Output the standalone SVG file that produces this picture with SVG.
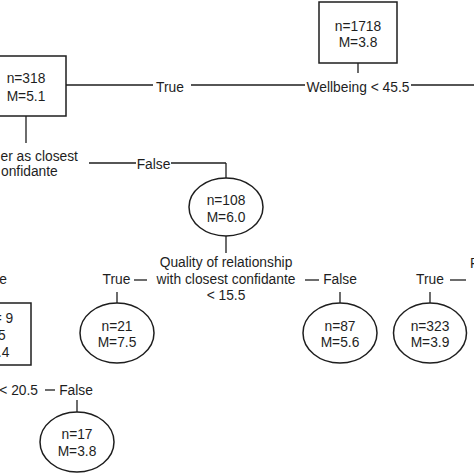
<svg xmlns="http://www.w3.org/2000/svg" width="474" height="474" viewBox="0 0 474 474">
<style>
text{font-family:"Liberation Sans",Arial,sans-serif;font-size:13.8px;fill:#1e1e1e}
.m{text-anchor:middle}
.e{text-anchor:end}
.n{fill:#fff;stroke:#1e1e1e;stroke-width:1.5}
#connectors line{stroke:#1e1e1e;stroke-width:1.3}
</style>
<rect width="474" height="474" fill="#fff"/>
<g id="connectors">
<line x1="66" y1="85" x2="153" y2="85"/>
<line x1="191" y1="85" x2="305" y2="85"/>
<line x1="411" y1="85" x2="474" y2="85"/>
<line x1="358" y1="63" x2="358" y2="73"/>
<line x1="26" y1="116" x2="26" y2="143"/>
<line x1="89" y1="163" x2="136" y2="163"/>
<line x1="171" y1="163" x2="226" y2="163"/>
<line x1="226" y1="163" x2="226" y2="178"/>
<line x1="226" y1="236" x2="226" y2="253"/>
<line x1="134" y1="280" x2="147" y2="280"/>
<line x1="305" y1="280" x2="319" y2="280"/>
<line x1="450" y1="280" x2="466" y2="280"/>
<line x1="117" y1="292" x2="117" y2="303"/>
<line x1="340" y1="292" x2="340" y2="303"/>
<line x1="430" y1="292" x2="430" y2="303"/>
<line x1="45" y1="390" x2="55" y2="390"/>
<line x1="77" y1="400" x2="77" y2="412"/>
</g>
<g id="labels">
<text class="m" x="170" y="92">True</text>
<text class="m" x="358" y="92">Wellbeing &lt; 45.5</text>
<text x="0.5" y="161">er as closest</text>
<text x="1" y="176">onfidante</text>
<text class="m" x="153.5" y="169">False</text>
<text class="m" x="226" y="267">Quality of relationship</text>
<text class="m" x="226" y="283.5">with closest confidante</text>
<text class="m" x="226" y="300">&lt; 15.5</text>
<text class="m" x="116.5" y="284">True</text>
<text class="m" x="340" y="284">False</text>
<text class="m" x="430" y="284">True</text>
<text class="e" x="7" y="284">True</text>
<text x="470" y="268">P</text>
<text class="e" x="38" y="395">&lt; 20.5</text>
<text class="m" x="76" y="395">False</text>
</g>
<g id="node-root">
<rect class="n" x="319" y="2" width="78" height="61"/>
<text class="m" x="358" y="31">n=1718</text>
<text class="m" x="358" y="47">M=3.8</text>
</g>
<g id="node-318">
<rect class="n" x="-14" y="56" width="80" height="60"/>
<text class="m" x="26" y="83">n=318</text>
<text class="m" x="26" y="100.5">M=5.1</text>
</g>
<g id="node-108">
<ellipse class="n" cx="226" cy="207" rx="37" ry="29"/>
<text class="m" x="226" y="205">n=108</text>
<text class="m" x="226" y="221.5">M=6.0</text>
</g>
<g id="node-9">
<rect class="n" x="-45" y="303" width="76" height="62"/>
<text class="e" x="13.3" y="323">= 9</text>
<text class="e" x="5.7" y="340">5</text>
<text class="e" x="9.3" y="356.5">.4</text>
</g>
<g id="node-21">
<ellipse class="n" cx="117" cy="333" rx="37" ry="30"/>
<text class="m" x="117" y="330.5">n=21</text>
<text class="m" x="117" y="347">M=7.5</text>
</g>
<g id="node-87">
<ellipse class="n" cx="340" cy="333" rx="37" ry="30"/>
<text class="m" x="340" y="330.5">n=87</text>
<text class="m" x="340" y="347">M=5.6</text>
</g>
<g id="node-323">
<ellipse class="n" cx="430" cy="333" rx="36.5" ry="30"/>
<text class="m" x="430" y="330.5">n=323</text>
<text class="m" x="430" y="347">M=3.9</text>
</g>
<g id="node-17">
<ellipse class="n" cx="77" cy="442" rx="37" ry="30"/>
<text class="m" x="77" y="439">n=17</text>
<text class="m" x="77" y="455.5">M=3.8</text>
</g>
</svg>
